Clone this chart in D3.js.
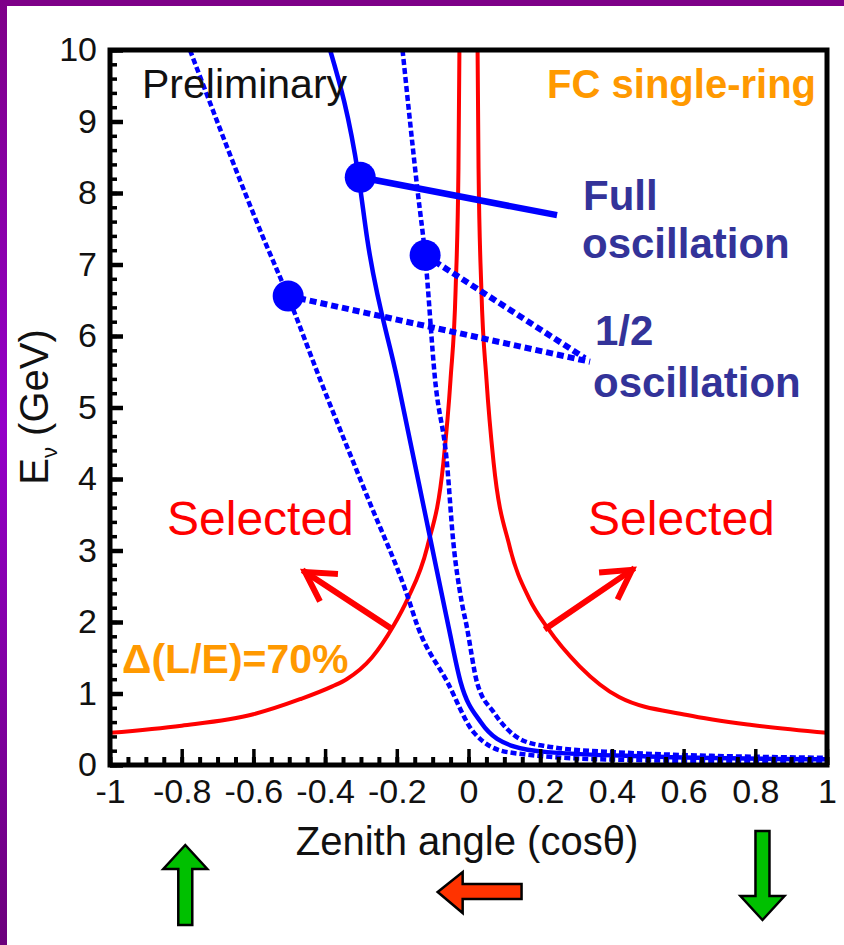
<!DOCTYPE html>
<html>
<head>
<meta charset="utf-8">
<script src="https://cdn.jsdelivr.net/npm/d3@7"></script>
<style>
  html, body { margin: 0; padding: 0; background: #fff; }
  svg { display: block; font-family: "Liberation Sans", Arial, sans-serif; }
</style>
</head>
<body>
<svg id="chart" width="844" height="945"></svg>
<script>
// axis ticks
var xTickValues = [-1, -0.8, -0.6, -0.4, -0.2, 0, 0.2, 0.4, 0.6, 0.8, 1];
var xTickLabels = ["-1", "-0.8", "-0.6", "-0.4", "-0.2", "0", "0.2", "0.4", "0.6", "0.8", "1"];
var yTickValues = [0, 1, 2, 3, 4, 5, 6, 7, 8, 9, 10];

// red curves: selection boundary, Delta(L/E) = 70%
var redLeftCos = [-1, -0.8, -0.6, -0.47, -0.38, -0.34, -0.27, -0.21, -0.17, -0.115, -0.07, -0.05, -0.036, -0.028, -0.025];
var redLeftE   = [0.45, 0.55, 0.71, 0.92, 1.1, 1.2, 1.5, 1.94, 2.32, 3.05, 4.23, 5.4, 6.64, 8.35, 10.2];
var redRightCos = [0.025, 0.028, 0.036, 0.05, 0.07, 0.115, 0.17, 0.22, 0.31, 0.42, 0.61, 0.79, 1];
var redRightE   = [10.2, 8.35, 6.64, 5.4, 4.23, 3.05, 2.32, 1.92, 1.38, 0.95, 0.70, 0.56, 0.45];

// blue curves: full oscillation (solid) and 1/2 oscillation (dotted)
var fullCos = [-0.386, -0.307, -0.282, -0.198, -0.106, -0.056, -0.022, 0.034, 0.126, 0.22, 0.5, 1];
var fullE   = [10, 8.24, 7.34, 5.38, 3.15, 1.94, 1.16, 0.60, 0.26, 0.18, 0.12, 0.08];
var halfLowCos = [-0.777, -0.573, -0.503, -0.413, -0.282, -0.17, -0.142, -0.059, 0.014, 0.109, 0.37, 1];
var halfLowE   = [10, 7.38, 6.55, 5.38, 3.75, 2.36, 1.94, 1.16, 0.46, 0.18, 0.08, 0.04];
var halfHighCos = [-0.184, -0.142, -0.121, -0.093, -0.06, -0.043, -0.02, -0.005, 0.024, 0.07, 0.145, 0.22, 0.405, 1];
var halfHighE   = [10, 8.03, 7.13, 5.38, 4.22, 3.15, 2.31, 1.94, 1.15, 0.74, 0.36, 0.26, 0.18, 0.10];

// marker dots and the lines leading to the labels
var fullDot = [-0.302, 8.22];
var fullPointer = [0.247, 7.69];
var halfDots = [[-0.503, 6.56], [-0.121, 7.13]];
var halfPointers = [[0.339, 5.64], [0.325, 5.69]];

// "Selected" arrows: [tail cos, tail E, tip cos, tip E]
var selectArrows = [[-0.219, 1.92, -0.456, 2.70], [0.219, 1.92, 0.456, 2.73]];

var svg = d3.select("#chart");

var defs = svg.append("defs");
var grad = defs.append("linearGradient").attr("id", "purple")
  .attr("x1", 0).attr("y1", 0).attr("x2", 0).attr("y2", 1);
grad.append("stop").attr("offset", "0%").attr("stop-color", "#7e0088");
grad.append("stop").attr("offset", "45%").attr("stop-color", "#9500c8");
grad.append("stop").attr("offset", "100%").attr("stop-color", "#6c007c");

svg.append("rect").attr("x", 0).attr("y", 0).attr("width", 844).attr("height", 6).attr("fill", "#7e0088");
svg.append("rect").attr("x", 0).attr("y", 0).attr("width", 7).attr("height", 945).attr("fill", "url(#purple)");

var x = d3.scaleLinear().domain([-1, 1]).range([110, 827]);
var y = d3.scaleLinear().domain([0, 10]).range([765, 50]);

defs.append("clipPath").attr("id", "plotclip").append("rect")
  .attr("x", 110).attr("y", 50).attr("width", 717).attr("height", 715);

var plot = svg.append("g").attr("clip-path", "url(#plotclip)");

function pairs(xs, ys) { return xs.map(function(d, i) { return [d, ys[i]]; }); }

var line = d3.line()
  .x(function(d) { return x(d[0]); })
  .y(function(d) { return y(d[1]); })
  .curve(d3.curveMonotoneX);

plot.append("path").datum(pairs(redLeftCos, redLeftE))
  .attr("d", line).attr("fill", "none").attr("stroke", "#ff0000").attr("stroke-width", 4);
plot.append("path").datum(pairs(redRightCos, redRightE))
  .attr("d", line).attr("fill", "none").attr("stroke", "#ff0000").attr("stroke-width", 4);

plot.append("path").datum(pairs(halfLowCos, halfLowE))
  .attr("d", line).attr("fill", "none").attr("stroke", "#0000ff")
  .attr("stroke-width", 4.5).attr("stroke-dasharray", "6,3");
plot.append("path").datum(pairs(halfHighCos, halfHighE))
  .attr("d", line).attr("fill", "none").attr("stroke", "#0000ff")
  .attr("stroke-width", 4.5).attr("stroke-dasharray", "6,3");
plot.append("path").datum(pairs(fullCos, fullE))
  .attr("d", line).attr("fill", "none").attr("stroke", "#0000ff").attr("stroke-width", 4.5);

// pointer lines
plot.append("line")
  .attr("x1", x(fullDot[0])).attr("y1", y(fullDot[1]))
  .attr("x2", x(fullPointer[0])).attr("y2", y(fullPointer[1]))
  .attr("stroke", "#0000ff").attr("stroke-width", 6.5);
halfDots.forEach(function(d, i) {
  plot.append("line")
    .attr("x1", x(d[0])).attr("y1", y(d[1]))
    .attr("x2", x(halfPointers[i][0])).attr("y2", y(halfPointers[i][1]))
    .attr("stroke", "#0000ff").attr("stroke-width", 6).attr("stroke-dasharray", "7,4");
});

plot.selectAll("circle.dot").data([fullDot].concat(halfDots)).enter()
  .append("circle").attr("class", "dot")
  .attr("cx", function(d) { return x(d[0]); })
  .attr("cy", function(d) { return y(d[1]); })
  .attr("r", 15.5).attr("fill", "#0000ff");

// red "Selected" arrows
selectArrows.forEach(function(a) {
  var x0 = x(a[0]), y0 = y(a[1]), x1 = x(a[2]), y1 = y(a[3]);
  var ang = Math.atan2(y0 - y1, x0 - x1);
  var len = 30, spread = 0.52;
  var g = plot.append("g").attr("stroke", "#ff0000").attr("stroke-width", 6)
    .attr("fill", "none").attr("stroke-linecap", "square");
  g.append("line").attr("x1", x0).attr("y1", y0).attr("x2", x1).attr("y2", y1);
  g.append("path").attr("stroke-linejoin", "miter").attr("d",
    "M" + (x1 + len * Math.cos(ang - spread)) + "," + (y1 + len * Math.sin(ang - spread)) +
    "L" + x1 + "," + y1 +
    "L" + (x1 + len * Math.cos(ang + spread)) + "," + (y1 + len * Math.sin(ang + spread)));
});

// axes
var yMajor = d3.axisLeft(y).tickValues(yTickValues).tickSize(-13).tickPadding(13)
  .tickFormat(d3.format("d"));
var yMinor = d3.axisLeft(y).tickValues(d3.range(0, 10.01, 0.2)).tickSize(-7).tickFormat("");
var xMajor = d3.axisBottom(x).tickValues(xTickValues).tickSize(-16).tickPadding(14)
  .tickFormat(function(d, i) { return xTickLabels[i]; });
var xMinor = d3.axisBottom(x).tickValues(d3.range(-1, 1.001, 0.05)).tickSize(-8).tickFormat("");

function styleAxis(g, w) {
  g.select(".domain").remove();
  g.selectAll(".tick line").attr("stroke", "#000").attr("stroke-width", w);
  g.selectAll(".tick text").attr("fill", "#111").style("font-size", "34px")
    .style("font-family", "'Liberation Sans', Arial, sans-serif");
}

svg.append("g").attr("transform", "translate(110,0)").call(yMinor).call(styleAxis, 3.5);
svg.append("g").attr("transform", "translate(110,0)").call(yMajor).call(styleAxis, 4.5);
svg.append("g").attr("transform", "translate(0,765)").call(xMinor).call(styleAxis, 4);
svg.append("g").attr("transform", "translate(0,765)").call(xMajor).call(styleAxis, 3.5);

svg.append("rect").attr("x", 110).attr("y", 50).attr("width", 717).attr("height", 715)
  .attr("fill", "none").attr("stroke", "#000").attr("stroke-width", 5);

// axis titles
svg.append("text").attr("x", 467).attr("y", 855).attr("text-anchor", "middle")
  .style("font-size", "40px").attr("fill", "#111").text("Zenith angle (cos\u03b8)");

var yt = svg.append("text").attr("transform", "translate(48,407) rotate(-90)")
  .attr("text-anchor", "middle").style("font-size", "40px").attr("fill", "#111");
yt.append("tspan").text("E");
yt.append("tspan").attr("dy", 9).style("font-size", "22px").text("\u03bd");
yt.append("tspan").attr("dy", -9).text(" (GeV)");

// labels inside the plot
svg.append("text").attr("x", 142).attr("y", 98).style("font-size", "41px")
  .attr("fill", "#111").text("Preliminary");
svg.append("text").attr("x", 816).attr("y", 98).attr("text-anchor", "end")
  .style("font-size", "40px").style("font-weight", "bold").attr("fill", "#ff9900")
  .text("FC single-ring");

var navy = "#333399";
[["Full", 583, 210], ["oscillation", 582, 258], ["1/2", 595, 345], ["oscillation", 593, 397]]
  .forEach(function(t) {
    svg.append("text").attr("x", t[1]).attr("y", t[2]).style("font-size", "42px")
      .style("font-weight", "bold").attr("fill", navy).text(t[0]);
  });

svg.append("text").attr("x", 167).attr("y", 535).style("font-size", "48px")
  .attr("fill", "#ff0000").text("Selected");
svg.append("text").attr("x", 588).attr("y", 535).style("font-size", "48px")
  .attr("fill", "#ff0000").text("Selected");

svg.append("text").attr("x", 122).attr("y", 673).style("font-size", "41px")
  .style("font-weight", "bold").attr("fill", "#ff9900").text("\u0394(L/E)=70%");

// direction arrows under the axis
function vArrow(cx, top, bottom, up, fill) {
  var hw = 22, sw = 7, hh = 24;
  var p;
  if (up) {
    p = [[cx, top], [cx + hw, top + hh], [cx + sw, top + hh], [cx + sw, bottom],
         [cx - sw, bottom], [cx - sw, top + hh], [cx - hw, top + hh]];
  } else {
    p = [[cx, bottom], [cx + hw, bottom - hh], [cx + sw, bottom - hh], [cx + sw, top],
         [cx - sw, top], [cx - sw, bottom - hh], [cx - hw, bottom - hh]];
  }
  svg.append("polygon").attr("points", p.join(" ")).attr("fill", fill)
    .attr("stroke", "#000").attr("stroke-width", 2.5).attr("stroke-linejoin", "miter");
}
vArrow(x(-0.79), 845, 925, true, "#00c000");
vArrow(x(0.82), 831, 920, false, "#00c000");

var lx = x(-0.086), rx = x(0.148), cy = 892;
svg.append("polygon").attr("points", [
    [lx, cy], [lx + 25, cy - 20], [lx + 25, cy - 8], [rx, cy - 8],
    [rx, cy + 7], [lx + 25, cy + 7], [lx + 25, cy + 21]
  ].join(" "))
  .attr("fill", "#ff3300").attr("stroke", "#000").attr("stroke-width", 2.5);
</script>
</body>
</html>
